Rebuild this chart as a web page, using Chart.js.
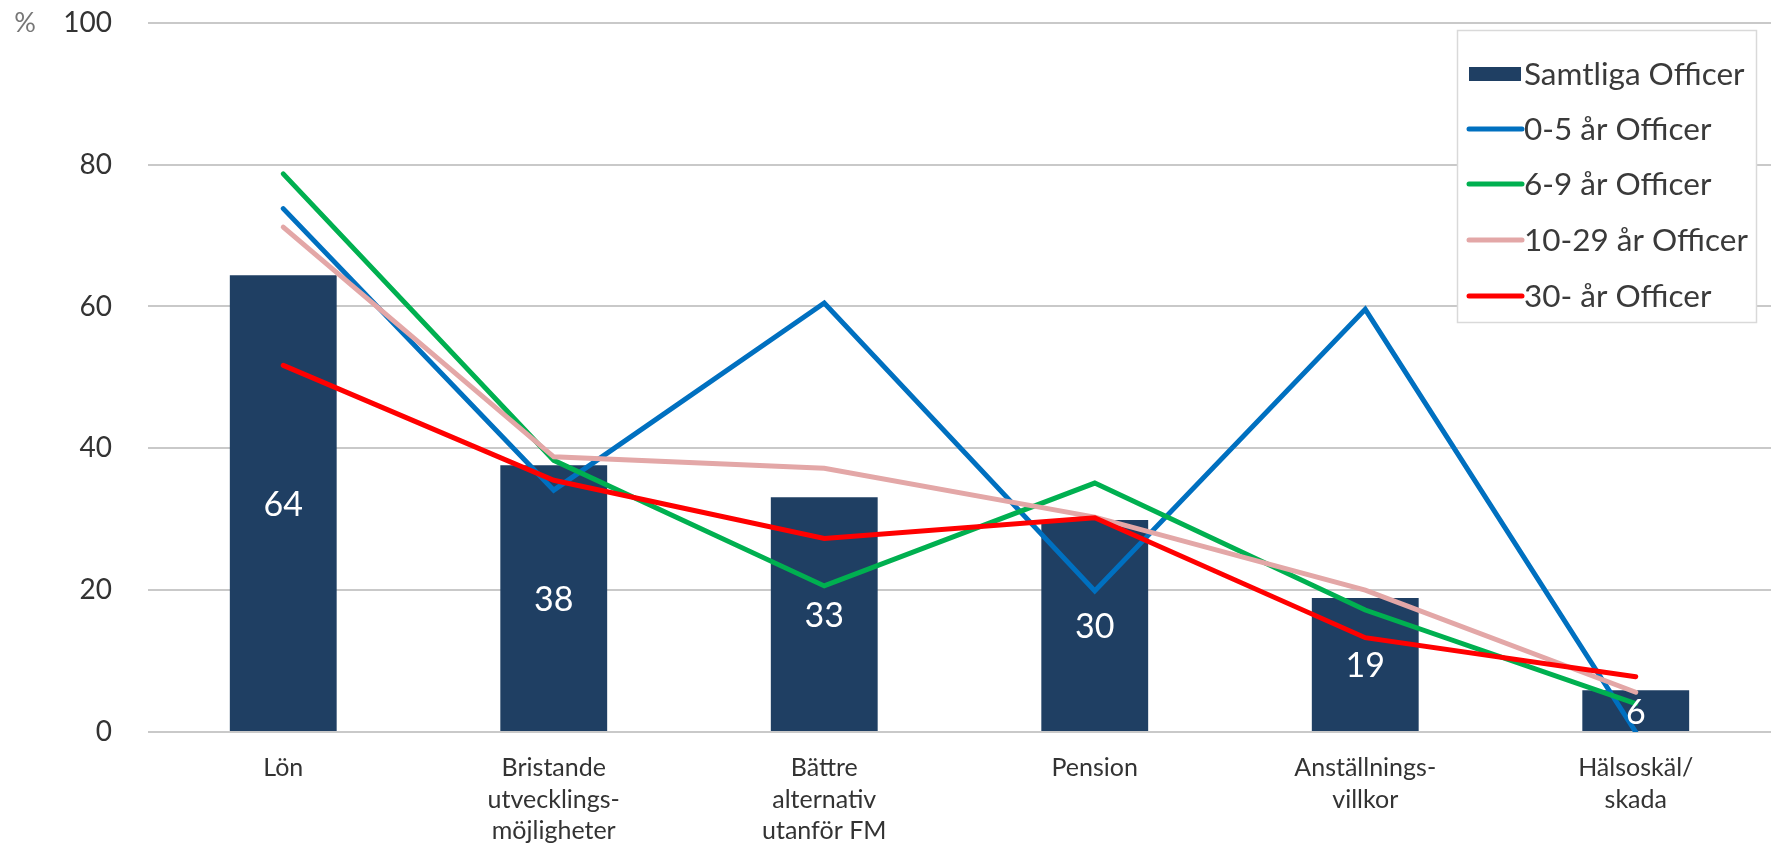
<!DOCTYPE html>
<html>
<head>
<meta charset="utf-8">
<script src="https://cdn.jsdelivr.net/npm/chart.js@4/dist/chart.umd.min.js"></script>
<style>
  html, body { margin: 0; padding: 0; background: #fff; }
  #wrap { width: 1771px; height: 851px; position: relative; overflow: hidden; }
</style>
</head>
<body>
<div id="wrap"><canvas id="chart"></canvas></div>
<script>
// categories (x axis, multi-line labels)
var categories = [
  ['Lön'],
  ['Bristande', 'utvecklings-', 'möjligheter'],
  ['Bättre', 'alternativ', 'utanför FM'],
  ['Pension'],
  ['Anställnings-', 'villkor'],
  ['Hälsoskäl/', 'skada']
];

var seriesNames = ['Samtliga Officer', '0-5 år Officer', '6-9 år Officer', '10-29 år Officer', '30- år Officer'];

// values (%)
var samtliga = [64.4, 37.6, 33.1, 29.9, 18.9, 5.9];
var ar0_5    = [73.8, 34.1, 60.5, 19.9, 59.6, 0];
var ar6_9    = [78.7, 38.3, 20.6, 35.1, 17.2, 4.0];
var ar10_29  = [71.2, 38.8, 37.2, 30.3, 20.0, 5.6];
var ar30     = [51.7, 35.5, 27.3, 30.2, 13.3, 7.8];

var yTicks = [0, 20, 40, 60, 80, 100];

var barColor = '#1F3F63';
var lineColors = ['#0070C0', '#00B050', '#E3A7A7', '#FF0000'];
var fontFam = 'Lato, "Open Sans", sans-serif';

// white value labels centred in each bar
var barLabels = {
  id: 'barLabels',
  afterDatasetsDraw: function(chart) {
    var ctx = chart.ctx;
    var meta = chart.getDatasetMeta(0);
    ctx.save();
    ctx.fillStyle = '#ffffff';
    ctx.font = '34px ' + fontFam;
    ctx.textAlign = 'center';
    ctx.textBaseline = 'middle';
    meta.data.forEach(function(bar, i) {
      var v = chart.data.datasets[0].data[i];
      ctx.fillText(Math.round(v), bar.x, (bar.y + bar.base) / 2 + 2);
    });
    ctx.restore();
  }
};

// boxed legend in upper right + "%" unit label
var boxLegend = {
  id: 'boxLegend',
  afterDraw: function(chart) {
    var ctx = chart.ctx;
    var x0 = 1457, y0 = 30, w = 299, h = 292;
    ctx.save();
    ctx.fillStyle = '#fff';
    ctx.fillRect(x0, y0, w, h);
    ctx.strokeStyle = '#d9d9d9';
    ctx.lineWidth = 1.5;
    ctx.strokeRect(x0 + 0.5, y0 + 0.5, w, h);
    var rowY = [74, 129, 184, 240, 296];
    ctx.font = '31.5px ' + fontFam;
    ctx.textBaseline = 'middle';
    ctx.textAlign = 'left';
    chart.data.datasets.forEach(function(ds, i) {
      var y = rowY[i];
      if (ds.type === 'bar') {
        ctx.fillStyle = ds.backgroundColor;
        ctx.fillRect(1469, y - 7, 52, 14);
      } else {
        ctx.strokeStyle = ds.borderColor;
        ctx.lineWidth = 5;
        ctx.lineCap = 'round';
        ctx.beginPath();
        ctx.moveTo(1469, y);
        ctx.lineTo(1522, y);
        ctx.stroke();
      }
      ctx.fillStyle = '#3a3a3a';
      ctx.fillText(ds.label, 1524, y + 1);
    });
    ctx.fillStyle = '#777';
    ctx.font = '27px ' + fontFam;
    ctx.textAlign = 'center';
    ctx.fillText('%', 25, 23);
    ctx.restore();
  }
};

function lineSet(name, data, color, order) {
  return {
    type: 'line',
    label: name,
    data: data,
    borderColor: color,
    backgroundColor: color,
    borderWidth: 5,
    pointRadius: 0,
    pointHoverRadius: 0,
    tension: 0,
    fill: false,
    borderCapStyle: 'round',
    borderJoinStyle: 'miter',
    order: order
  };
}

var ctx = document.getElementById('chart');
new Chart(ctx, {
  type: 'bar',
  data: {
    labels: categories,
    datasets: [
      {
        type: 'bar',
        label: seriesNames[0],
        data: samtliga,
        backgroundColor: barColor,
        barPercentage: 0.395,
        categoryPercentage: 1,
        order: 5
      },
      lineSet(seriesNames[1], ar0_5, lineColors[0], 4),
      lineSet(seriesNames[2], ar6_9, lineColors[1], 3),
      lineSet(seriesNames[3], ar10_29, lineColors[2], 2),
      lineSet(seriesNames[4], ar30, lineColors[3], 1)
    ]
  },
  options: {
    responsive: true,
    maintainAspectRatio: false,
    animation: false,
    layout: { padding: { top: 0, right: -8, left: 0, bottom: 0 } },
    plugins: {
      legend: { display: false },
      tooltip: { enabled: false }
    },
    scales: {
      x: {
        grid: { display: false },
        border: { display: false },
        ticks: {
          color: '#333',
          font: { family: fontFam, size: 25, lineHeight: 1.27 },
          padding: 12,
          maxRotation: 0,
          autoSkip: false
        },
        afterFit: function(scale) { scale.height = 119; }
      },
      y: {
        min: 0,
        max: 100,
        afterBuildTicks: function(scale) {
          scale.ticks = yTicks.map(function(v) { return { value: v }; });
        },
        // invisible tick marks push labels left without adding top padding
        grid: { color: '#c9c9c9', lineWidth: 2, drawTicks: true, tickLength: 30, tickColor: 'rgba(0,0,0,0)' },
        border: { display: false },
        ticks: {
          color: '#333',
          font: { family: fontFam, size: 28 },
          padding: 6
        },
        afterFit: function(scale) { scale.width = 148; }
      }
    }
  },
  plugins: [barLabels, boxLegend]
});
</script>
</body>
</html>
